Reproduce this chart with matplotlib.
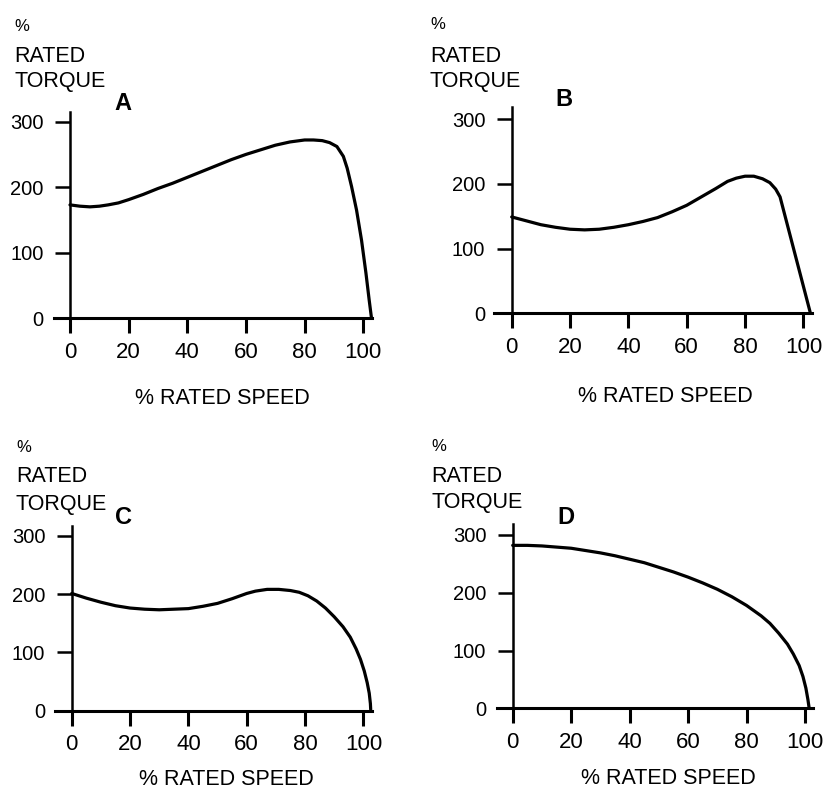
import matplotlib
matplotlib.use("Agg")
import matplotlib.pyplot as plt
from matplotlib import font_manager

# ---------------- data ----------------
speed_a = [0, 3.4, 6.8, 10, 13, 16.5, 20, 25, 30, 35, 40, 45, 50, 55, 60, 65, 70, 75,
           80, 83, 86, 88.5, 91, 93.2, 94.5, 96, 97.7, 99.4, 100.9, 102, 102.8]
torque_a = [173, 171, 170, 171, 173, 176, 181, 189, 198, 206, 215, 224, 233, 242, 250, 257, 264, 269,
            272, 272, 271, 268, 262, 247, 229, 201, 165, 119, 69, 28, 0]

speed_b = [0, 5, 10, 15, 20, 25, 30, 35, 40, 45, 50, 55, 60, 65, 70, 74, 77, 80, 83, 86,
           88.5, 90.5, 92, 102.3]
torque_b = [149, 143, 137, 133, 130, 129, 130, 133, 137, 142, 148, 157, 167, 180, 193, 204, 209, 212, 212, 208,
            202, 192, 180, 2]

speed_c = [0, 5, 10, 15, 20, 25, 30, 35, 40, 45, 50, 55, 60, 63, 67, 71, 75, 78, 81, 84,
           87, 90, 93, 95.5, 97.5, 99, 100.3, 101.3, 102, 102.4, 102.5]
torque_c = [201, 193, 186, 180, 176, 174, 173, 174, 175, 179, 184, 192, 201, 205, 208, 208, 206, 203, 197, 188,
            176, 161, 144, 126, 106, 88, 68, 48, 30, 12, 2]

speed_d = [0, 5, 10, 15, 20, 25, 30, 35, 40, 45, 50, 55, 60, 65, 70, 75, 80, 85, 88, 91,
           94, 96, 98, 99.3, 100.3, 101, 101.4]
torque_d = [282, 282, 281, 279, 277, 273, 269, 264, 258, 252, 244, 236, 227, 217, 206, 193, 178, 160, 147, 130,
            111, 94, 74, 55, 35, 15, 1]

x_ticks = [0, 20, 40, 60, 80, 100]
y_ticks = [0, 100, 200, 300]
panel_letters = ["A", "B", "C", "D"]
y_title_lines = ["%", "RATED", "TORQUE"]
x_title = "% RATED SPEED"

# ---------------- fonts ----------------
names = {f.name for f in font_manager.fontManager.ttflist}
if "Liberation Sans Narrow" in names:
    LAB_FONT = ["Liberation Sans Narrow", "DejaVu Sans"]
    LAB_SIZE = 17.5
    XT_SIZE = 18
else:
    LAB_FONT = ["Liberation Sans", "DejaVu Sans"]
    LAB_SIZE = 15.5
    XT_SIZE = 16
REG_FONT = ["Liberation Sans", "DejaVu Sans"]

W, H = 825, 792
fig = plt.figure(figsize=(W / 100, H / 100), dpi=100)
fig.patch.set_facecolor("white")

# layout in pixels: (x of data 0, px per x unit, y of data 0, px per y unit, xmin, xmax, ytop)
layouts = [
    (70.0, 2.933, 318.3, 0.6556, -5.5, 103.0, 315),
    (511.7, 2.917, 313.3, 0.6467, -6.1, 102.9, 319),
    (71.7, 2.917, 710.7, 0.5833, -5.7, 102.9, 316),
    (512.7, 2.923, 708.3, 0.5778, -5.3, 102.8, 319),
]
series = [(speed_a, torque_a), (speed_b, torque_b), (speed_c, torque_c), (speed_d, torque_d)]

# text placements in pixels
letter_pos = [(123, 104), (564, 100), (124, 517), (566, 517)]
title_pos = [  # (x, baseline %, baseline RATED, baseline TORQUE)
    (14, 31, 62, 87),
    (430, 29, 62, 87),
    (16, 452, 482, 510),
    (431, 451, 482, 508),
]
xlabel_pos = [(222, 404), (665, 402), (226, 785), (668, 784)]


def fx(x):
    return x / W


def fy(y):
    return 1 - y / H


for i, (lay, (sx, sy)) in enumerate(zip(layouts, series)):
    x0, xs, y0, ys, xmin, xmax, ytop = lay
    left = x0 + xmin * xs
    right = x0 + xmax * xs
    top = y0 - ytop * ys
    ax = fig.add_axes([fx(left), fy(y0), (right - left) / W, (y0 - top) / H])
    ax.set_xlim(xmin, xmax)
    ax.set_ylim(0, ytop)
    ax.patch.set_alpha(0)
    for s in ("top", "right"):
        ax.spines[s].set_visible(False)
    ax.spines["left"].set_position(("data", 0))
    ax.spines["left"].set_linewidth(1.8)
    ax.spines["bottom"].set_linewidth(2.2)
    ax.set_xticks(x_ticks)
    ax.set_yticks(y_ticks)
    ax.set_xticklabels([str(v) for v in x_ticks], fontfamily=LAB_FONT, fontsize=XT_SIZE)
    ax.set_yticklabels([str(v) for v in y_ticks], fontfamily=REG_FONT, fontsize=14.5)
    ax.tick_params(axis="x", direction="out", length=11, width=2.2, pad=6)
    ax.tick_params(axis="y", direction="out", length=11, width=1.8, pad=8)
    ax.plot(sx, sy, color="black", lw=2.3, solid_joinstyle="round",
            solid_capstyle="round", clip_on=False)

    # panel letter
    lx, ly = letter_pos[i]
    fig.text(fx(lx), fy(ly), panel_letters[i], ha="center", va="center",
             fontfamily=REG_FONT, fontweight="bold", fontsize=17)
    # y title
    tx, b1, b2, b3 = title_pos[i]
    fig.text(fx(tx), fy(b1), y_title_lines[0], ha="left", va="baseline",
             fontfamily=REG_FONT, fontsize=12)
    fig.text(fx(tx), fy(b2), y_title_lines[1], ha="left", va="baseline",
             fontfamily=LAB_FONT, fontsize=LAB_SIZE)
    fig.text(fx(tx), fy(b3), y_title_lines[2], ha="left", va="baseline",
             fontfamily=LAB_FONT, fontsize=LAB_SIZE)
    # x title
    xx, xb = xlabel_pos[i]
    fig.text(fx(xx), fy(xb), x_title, ha="center", va="baseline",
             fontfamily=LAB_FONT, fontsize=LAB_SIZE)

fig.savefig("out.png", dpi=100, facecolor="white")
